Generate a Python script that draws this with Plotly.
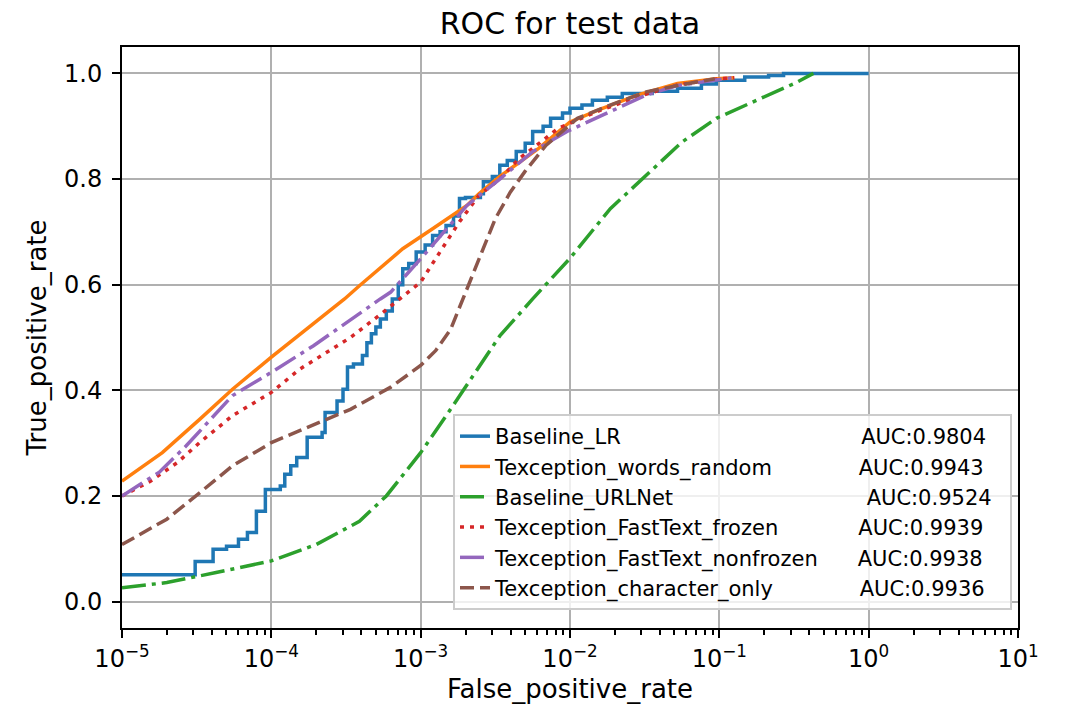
import numpy as np
import plotly.graph_objects as go

NB = "\u00a0"

# ---- data (x stored as log10 of false positive rate) ----
lr_logfpr = [-5.0, -4.51, -4.39, -4.30, -4.22, -4.16, -4.10, -4.04, -3.94, -3.91, -3.87, -3.83,
             -3.76, -3.66, -3.64, -3.56, -3.52, -3.49, -3.45, -3.39, -3.36, -3.33, -3.30, -3.27,
             -3.23, -3.19, -3.15, -3.12, -3.08, -3.03, -2.97, -2.92, -2.87, -2.83, -2.78, -2.74,
             -2.70, -2.60, -2.58, -2.52, -2.47, -2.42, -2.36, -2.30, -2.25, -2.18, -2.13, -2.05,
             -2.00, -1.92, -1.85, -1.75, -1.65, -1.45, -1.28, -1.12, -1.02, -0.83, -0.67, -0.57, 0.0]
lr_tpr = [0.051, 0.076, 0.099, 0.105, 0.118, 0.131, 0.171, 0.212, 0.219, 0.241, 0.257, 0.273,
          0.311, 0.320, 0.358, 0.380, 0.402, 0.444, 0.450, 0.466, 0.490, 0.507, 0.520, 0.535,
          0.550, 0.573, 0.600, 0.630, 0.640, 0.662, 0.675, 0.693, 0.700, 0.712, 0.730, 0.763,
          0.765, 0.772, 0.795, 0.805, 0.826, 0.835, 0.852, 0.868, 0.890, 0.900, 0.915, 0.925,
          0.934, 0.940, 0.949, 0.955, 0.962, 0.966, 0.972, 0.980, 0.987, 0.993, 0.996, 1.0, 1.0]

wr_logfpr = [-5.0, -4.73, -4.48, -4.26, -4.0, -3.76, -3.51, -3.41, -3.12, -2.92, -2.69, -2.61,
             -2.47, -2.21, -2.0, -1.80, -1.55, -1.28, -1.02, -0.90]
wr_tpr = [0.228, 0.282, 0.345, 0.402, 0.463, 0.516, 0.573, 0.598, 0.668, 0.706, 0.750, 0.772,
          0.805, 0.858, 0.908, 0.932, 0.959, 0.981, 0.990, 0.992]

url_logfpr = [-5.0, -4.70, -4.37, -4.0, -3.70, -3.41, -3.23, -3.0, -2.80, -2.47, -2.25, -2.08,
              -2.0, -1.73, -1.49, -1.25, -1.02, -0.75, -0.49, -0.37]
url_tpr = [0.026, 0.036, 0.055, 0.077, 0.108, 0.152, 0.200, 0.282, 0.364, 0.503, 0.573, 0.624,
           0.650, 0.744, 0.807, 0.870, 0.915, 0.950, 0.982, 1.0]

ftf_logfpr = [-5.0, -4.81, -4.63, -4.48, -4.26, -4.0, -3.81, -3.47, -3.25, -3.0, -2.80, -2.74,
              -2.61, -2.47, -2.34, -2.25, -2.08, -1.80, -1.50, -1.28, -1.00, -0.90]
ftf_tpr = [0.200, 0.228, 0.263, 0.301, 0.352, 0.396, 0.440, 0.500, 0.548, 0.605, 0.693, 0.719,
           0.769, 0.800, 0.839, 0.858, 0.896, 0.930, 0.960, 0.978, 0.990, 0.992]

ftn_logfpr = [-5.0, -4.75, -4.57, -4.26, -4.0, -3.72, -3.27, -3.20, -3.0, -2.69, -2.47, -2.25,
              -2.02, -1.80, -1.49, -1.28, -0.91]
ftn_tpr = [0.200, 0.245, 0.295, 0.390, 0.434, 0.484, 0.573, 0.586, 0.649, 0.750, 0.800, 0.852,
           0.890, 0.918, 0.959, 0.977, 0.992]

ch_logfpr = [-5.0, -4.70, -4.48, -4.26, -4.0, -3.70, -3.47, -3.20, -3.0, -2.90, -2.80, -2.70,
             -2.60, -2.50, -2.40, -2.30, -2.16, -1.95, -1.76, -1.49, -1.28, -1.03]
ch_tpr = [0.108, 0.156, 0.206, 0.257, 0.301, 0.336, 0.364, 0.406, 0.447, 0.475, 0.515, 0.585,
          0.655, 0.725, 0.775, 0.815, 0.864, 0.915, 0.937, 0.965, 0.977, 0.990]

names = ["Baseline_LR", "Texception_words_random", "Baseline_URLNet",
         "Texception_FastText_frozen", "Texception_FastText_nonfrozen",
         "Texception_character_only"]
aucs = ["AUC:0.9804", "AUC:0.9943", "AUC:0.9524", "AUC:0.9939", "AUC:0.9938", "AUC:0.9936"]
pads = [36, 13, 29, 12, 6, 13]

x_tickvals = [1e-5, 1e-4, 1e-3, 1e-2, 1e-1, 1e0, 1e1]
x_ticktext = ["10<sup>\u22125</sup>", "10<sup>\u22124</sup>", "10<sup>\u22123</sup>",
              "10<sup>\u22122</sup>", "10<sup>\u22121</sup>", "10<sup>0</sup>", "10<sup>1</sup>"]
y_tickvals = [0.0, 0.2, 0.4, 0.6, 0.8, 1.0]

colors = ["#1f77b4", "#ff7f0e", "#2ca02c", "#d62728", "#9467bd", "#8c564b"]
DASHDOT = "24px,6px,4px,6px"
dashes = ["solid", "solid", DASHDOT, "4px,6px", DASHDOT, "14px,6px"]
shapes = ["hv", "linear", "linear", "linear", "linear", "linear"]

series = [(lr_logfpr, lr_tpr), (wr_logfpr, wr_tpr), (url_logfpr, url_tpr),
          (ftf_logfpr, ftf_tpr), (ftn_logfpr, ftn_tpr), (ch_logfpr, ch_tpr)]

fig = go.Figure()
for i, (lx, ty) in enumerate(series):
    label = names[i] + NB * pads[i] + aucs[i] + NB * 2
    fig.add_trace(go.Scatter(
        x=np.power(10.0, np.array(lx)), y=ty, mode="lines", name=label,
        line=dict(color=colors[i], width=3.5, dash=dashes[i], shape=shapes[i]),
    ))

# The page body has an 8px margin: size the figure to fit the 1066x714 window and
# set margins so the plot area lands at 122..1018 x 47..628 on screen.
W, H = 1058, 706
FONT = "DejaVu Sans"
fig.update_layout(
    width=W, height=H,
    margin=dict(l=114, r=48, t=39, b=86),
    paper_bgcolor="white", plot_bgcolor="white",
    font=dict(family=FONT, size=24, color="black"),
    title=dict(text="ROC for test data", x=0.5, xanchor="center", xref="paper",
               y=1 - 15 / H, yref="container", yanchor="middle",
               font=dict(family=FONT, size=30, color="black")),
    showlegend=True,
    legend=dict(x=(453 - 122) / 896, xanchor="left", y=(628 - 610) / 581, yanchor="bottom",
                bgcolor="rgba(255,255,255,0.8)", bordercolor="#cccccc", borderwidth=2,
                font=dict(family=FONT, size=21, color="black"), tracegroupgap=0),
)
fig.update_xaxes(
    type="log", range=[-5, 1],
    tickvals=x_tickvals, ticktext=x_ticktext,
    ticks="outside", ticklen=8, tickwidth=2, tickcolor="black",
    showgrid=True, gridcolor="#b0b0b0", gridwidth=2,
    showline=True, linecolor="black", linewidth=2, mirror=True,
    minor=dict(ticks="outside", ticklen=5, tickwidth=1.5, tickcolor="black",
               dtick="D1", showgrid=False),
    title=dict(text="False_positive_rate", font=dict(family=FONT, size=26), standoff=8),
    zeroline=False,
)
fig.update_yaxes(
    range=[-0.05, 1.05], tickvals=y_tickvals, tickformat=".1f",
    ticks="outside", ticklen=8, tickwidth=2, tickcolor="black", ticklabelstandoff=5,
    showgrid=True, gridcolor="#b0b0b0", gridwidth=2,
    showline=True, linecolor="black", linewidth=2, mirror=True,
    title=dict(text="True_positive_rate", font=dict(family=FONT, size=26), standoff=10),
    zeroline=False,
)
fig.write_html("out.html")
